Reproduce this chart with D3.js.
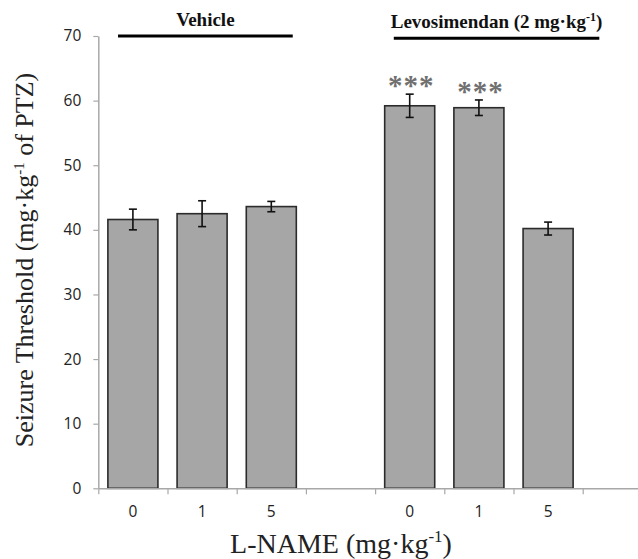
<!DOCTYPE html>
<html>
<head>
<meta charset="utf-8">
<script src="https://cdn.jsdelivr.net/npm/d3@7"></script>
<style>
  body { margin: 0; background: #fff; }
  svg { display: block; }
</style>
</head>
<body>
<div id="chart"></div>
<script>
// data
var tickLabels = ["0", "1", "5", "", "0", "1", "5", ""];
var means = [41.6, 42.5, 43.6, null, 59.2, 58.9, 40.2, null];
var errors = [1.6, 2.0, 0.8, null, 1.8, 1.2, 1.0, null];
var stars = ["", "", "", "", "***", "***", "", ""];
var yTicks = [0, 10, 20, 30, 40, 50, 60, 70];

// treatment groups drawn above the bars (positions in category units)
var groupNames = ["Vehicle", "Levosimendan (2 mg\u00b7kg"];
var groupStart = [0.285, 4.27];
var groupEnd = [2.81, 7.24];
var groupLevel = [70, 69.65];

var svgWidth = 638;
var svgHeight = 559;

var margin = { top: 36, left: 98.3 };
var step = 69.2;
var height = 452.3;

var svg = d3.select("#chart")
    .append("svg")
    .attr("width", svgWidth)
    .attr("height", svgHeight);

var chartGroup = svg.append("g")
    .attr("transform", `translate(${margin.left}, ${margin.top})`);

var xBand = d3.scaleBand()
    .domain(d3.range(tickLabels.length))
    .range([0, step * tickLabels.length])
    .paddingInner(0.277)
    .paddingOuter(0.1385);

var xPos = d3.scaleLinear()
    .domain([0, tickLabels.length])
    .range([0, step * tickLabels.length]);

var yLinearScale = d3.scaleLinear()
    .domain([0, 70])
    .range([height, 0]);

var axisColor = "#a8a8a8";

// y axis
var leftAxis = d3.axisLeft(yLinearScale)
    .tickValues(yTicks)
    .tickSize(5)
    .tickSizeOuter(0)
    .tickPadding(12);

var yAxisG = chartGroup.append("g").call(leftAxis);
yAxisG.select(".domain").attr("stroke", axisColor).attr("stroke-width", 1.5);
yAxisG.selectAll(".tick line").attr("stroke", axisColor).attr("stroke-width", 1.2);
yAxisG.selectAll(".tick text")
    .attr("font-family", "'Open Sans', sans-serif")
    .attr("font-size", "15.5px")
    .attr("fill", "#222");

// bars
var barData = means.map((m, i) => ({ i: i, m: m, e: errors[i], s: stars[i] }))
    .filter(d => d.m !== null);

chartGroup.selectAll("rect.bar")
    .data(barData)
    .enter()
    .append("rect")
    .attr("class", "bar")
    .attr("x", d => xBand(d.i))
    .attr("width", xBand.bandwidth())
    .attr("y", d => yLinearScale(d.m))
    .attr("height", d => height - yLinearScale(d.m))
    .attr("fill", "#a6a6a6")
    .attr("stroke", "#2b2b2b")
    .attr("stroke-width", 1.6);

// x axis: boundary ticks and category labels
var boundaryAxis = d3.axisBottom(xPos)
    .tickValues(d3.range(tickLabels.length + 1))
    .tickFormat("")
    .tickSize(6)
    .tickSizeOuter(0);

var xAxisG = chartGroup.append("g")
    .attr("transform", `translate(0, ${height})`)
    .call(boundaryAxis);
xAxisG.select(".domain").attr("stroke", axisColor).attr("stroke-width", 1.5);
xAxisG.selectAll(".tick line").attr("stroke", axisColor).attr("stroke-width", 1.2);

var labelAxis = d3.axisBottom(xBand)
    .tickSize(0)
    .tickPadding(18)
    .tickFormat(i => tickLabels[i]);

var labelG = chartGroup.append("g")
    .attr("transform", `translate(0, ${height})`)
    .call(labelAxis);
labelG.select(".domain").remove();
labelG.selectAll(".tick text")
    .attr("font-family", "'Open Sans', sans-serif")
    .attr("font-size", "15.5px")
    .attr("fill", "#222");

// error bars
var err = chartGroup.selectAll("g.err")
    .data(barData)
    .enter()
    .append("g")
    .attr("class", "err")
    .attr("stroke", "#111")
    .attr("stroke-width", 1.6);

var cx = d => xBand(d.i) + xBand.bandwidth() / 2;

err.append("line")
    .attr("x1", cx).attr("x2", cx)
    .attr("y1", d => yLinearScale(d.m + d.e))
    .attr("y2", d => yLinearScale(d.m - d.e));
err.append("line")
    .attr("x1", d => cx(d) - 4).attr("x2", d => cx(d) + 4)
    .attr("y1", d => yLinearScale(d.m + d.e))
    .attr("y2", d => yLinearScale(d.m + d.e));
err.append("line")
    .attr("x1", d => cx(d) - 4).attr("x2", d => cx(d) + 4)
    .attr("y1", d => yLinearScale(d.m - d.e))
    .attr("y2", d => yLinearScale(d.m - d.e));

// significance stars
chartGroup.selectAll("text.star")
    .data(barData.filter(d => d.s))
    .enter()
    .append("text")
    .attr("class", "star")
    .attr("x", d => cx(d) + 1.5)
    .attr("y", d => yLinearScale(d.m + d.e) + 1)
    .attr("text-anchor", "middle")
    .attr("font-family", "'Liberation Serif', serif")
    .attr("font-weight", "bold")
    .attr("font-size", "29px")
    .attr("letter-spacing", "1px")
    .attr("fill", "#707070")
    .text(d => d.s);

// group brackets
groupNames.forEach(function(name, g) {
    var x1 = xPos(groupStart[g]);
    var x2 = xPos(groupEnd[g]);
    var yy = yLinearScale(groupLevel[g]);
    chartGroup.append("line")
        .attr("x1", x1).attr("x2", x2)
        .attr("y1", yy).attr("y2", yy)
        .attr("stroke", "#000")
        .attr("stroke-width", 3.2);
    var t = chartGroup.append("text")
        .attr("x", (x1 + x2) / 2)
        .attr("y", yy - 10)
        .attr("text-anchor", "middle")
        .attr("font-family", "'Liberation Serif', serif")
        .attr("font-weight", "bold")
        .attr("font-size", "19px")
        .attr("fill", "#111")
        .text(name);
    if (g === 1) {
        t.append("tspan").attr("font-size", "12px").attr("dy", "-7").text("-1");
        t.append("tspan").attr("dy", "7").text(")");
    }
});

// axis titles
var yTitle = svg.append("text")
    .attr("transform", `translate(33, 260) rotate(-90)`)
    .attr("text-anchor", "middle")
    .attr("font-family", "'Liberation Serif', serif")
    .attr("font-size", "26px")
    .attr("fill", "#222")
    .text("Seizure Threshold (mg\u00b7kg");
yTitle.append("tspan").attr("font-size", "15px").attr("dy", "-9").text("-1");
yTitle.append("tspan").attr("dy", "9").text(" of PTZ)");

var xTitle = svg.append("text")
    .attr("x", 341)
    .attr("y", 553)
    .attr("text-anchor", "middle")
    .attr("font-family", "'Liberation Serif', serif")
    .attr("font-size", "28px")
    .attr("fill", "#222")
    .text("L-NAME (mg\u00b7kg");
xTitle.append("tspan").attr("font-size", "17px").attr("dy", "-11").text("-1");
xTitle.append("tspan").attr("dy", "11").text(")");
</script>
</body>
</html>
